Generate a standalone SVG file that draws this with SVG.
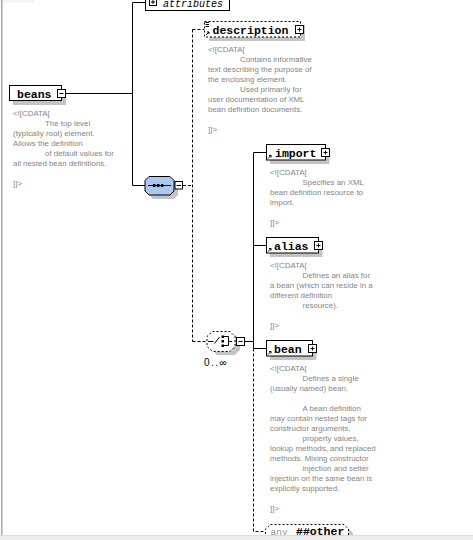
<svg xmlns="http://www.w3.org/2000/svg" width="473" height="540" viewBox="0 0 473 540">
<style>
.bg{fill:#ffffff}
.box{fill:#ffffff;stroke:#000;stroke-width:1}
.dbox{fill:#ffffff;stroke:#000;stroke-width:1;stroke-dasharray:2,2}
.sh{fill:#c4c4c4}
.pm{fill:#ffffff;stroke:#000;stroke-width:1}
.pml{stroke:#000;stroke-width:1;fill:none}
.ln{stroke:#000;stroke-width:1;fill:none}
.dl{stroke:#000;stroke-width:1;fill:none;stroke-dasharray:3,2}
.nm{font-family:"Liberation Mono","Courier New",monospace;font-weight:bold;font-size:11.5px;fill:#000}
.ann{font-family:"Liberation Sans",Arial,sans-serif;font-size:7.9px;fill:#858585}
.ico{stroke:#000;stroke-width:1;fill:none}
</style>
<rect class="bg" x="0" y="0" width="473" height="540"/>
<rect x="0" y="0" width="35" height="3" fill="#f4f4f4"/>
<rect x="1" y="0" width="1.5" height="540" fill="#a8a8a8"/>

<g id="connectors">
  <path class="ln" d="M65.5,93.5 H132.5 M132.5,2.5 V185.5 M132.5,2.5 H145.5 M132.5,185.5 H145.5"/>
  <path class="dl" d="M183,185.5 H192.5 M192.5,29.5 V341.5 M192.5,29.5 H204.5 M192.5,341.5 H207"/>
  <path class="ln" d="M244.5,341.5 H253.5 M253.5,152.5 V348.5 M253.5,152.5 H266.5 M253.5,245.5 H266.5 M253.5,348.5 H266.5"/>
  <path class="dl" d="M253.5,348.5 V531.5 H265.5"/>
</g>

<g id="beans">
  <rect class="sh" x="13" y="89" width="53" height="16"/>
  <rect class="box" x="9.5" y="85.5" width="52" height="15"/>
  <text class="nm" x="17" y="97.5">beans</text>
  <rect class="pm" x="57.5" y="89.5" width="8" height="8"/>
  <path class="pml" d="M59.5,93.5 H63.5"/>
  <g class="ann">
    <text x="13" y="116">&lt;![CDATA[</text>
    <text x="45" y="126">The top level</text>
    <text x="13" y="136">(typically root) element.</text>
    <text x="13" y="146">Allows the definition</text>
    <text x="45" y="156">of default values for</text>
    <text x="13" y="166">all nested bean definitions.</text>
    <text x="13" y="186">]]&gt;</text>
  </g>
</g>

<g id="attributes">
  <rect class="box" x="145.5" y="-6" width="84" height="16.5"/>
  <rect class="pm" x="149.5" y="-1.5" width="7" height="7"/>
  <path class="pml" d="M151,2 H155 M153,0 V4"/>
  <text x="163" y="7" font-family="'Liberation Mono','Courier New',monospace" font-style="italic" font-size="10px" fill="#000">attributes</text>
</g>

<g id="sequence">
  <path class="sh" d="M153,180.5 H174 L178,184.5 V195 L174,199 H153 L149,195 V184.5 Z"/>
  <path d="M149,176.5 H170 L174,180.5 V191 L170,195 H149 L145,191 V180.5 Z" fill="#a9c9f1" stroke="#000" stroke-width="1"/>
  <path class="ln" d="M148,185.5 H171"/>
  <rect x="153" y="184" width="2.5" height="3" fill="#000"/>
  <rect x="157" y="184" width="2.5" height="3" fill="#000"/>
  <rect x="161" y="184" width="2.5" height="3" fill="#000"/>
  <rect class="pm" x="175" y="181.5" width="7.5" height="7.5"/>
  <path class="pml" d="M176.5,185.5 H181"/>
</g>

<g id="description">
  <rect class="sh" x="209" y="25" width="96" height="16"/>
  <rect class="dbox" x="204.5" y="21.5" width="96" height="15.5"/>
  <path class="ico" d="M205.5,22.5 H209 M205.5,24.5 H209 M205.5,26.5 H209"/>
  <path class="ico" d="M206,35 L209,32 M207,32 H209 V34"/>
  <text class="nm" x="212.5" y="34">description</text>
  <rect class="pm" x="295.5" y="25.5" width="8" height="8"/>
  <path class="pml" d="M297.5,29.5 H301.5 M299.5,27.5 V31.5"/>
  <g class="ann">
    <text x="208" y="52">&lt;![CDATA[</text>
    <text x="240" y="62">Contains informative</text>
    <text x="208" y="72">text describing the purpose of</text>
    <text x="208" y="82">the enclosing element.</text>
    <text x="240" y="92">Used primarily for</text>
    <text x="208" y="102">user documentation of XML</text>
    <text x="208" y="112">bean definition documents.</text>
    <text x="208" y="132">]]&gt;</text>
  </g>
</g>

<g id="choice">
  <path class="sh" d="M217,335 H235 L240,340 V350 L235,355 H217 L212,350 V340 Z"/>
  <path class="dbox" d="M212.5,331.5 H230 L235,336.5 V346.5 L230,351.5 H212.5 L207,346.5 V336.5 Z"/>
  <path class="ln" d="M208,341.5 H213.5 M214.5,343.5 L219.5,337"/>
  <rect x="221.5" y="335.5" width="2.5" height="2.5" fill="#000"/>
  <rect x="221.5" y="340" width="2.5" height="2.5" fill="#000"/>
  <rect x="221.5" y="344.5" width="2.5" height="2.5" fill="#000"/>
  <path class="ln" d="M224,336.5 H228.5 V345.5 H224 M228.5,341.5 H232"/>
  <rect class="pm" x="236.5" y="337.5" width="8" height="8"/>
  <path class="pml" d="M238.5,341.5 H242.5"/>
  <text x="204" y="366" font-family="'Liberation Sans',Arial,sans-serif" font-size="10px" letter-spacing="1.5" fill="#000">0..∞</text>
</g>

<g id="import">
  <rect class="sh" x="270" y="148" width="59.5" height="16"/>
  <rect class="box" x="266.5" y="144.5" width="59" height="15.5"/>
  <path class="ico" d="M268,158.5 L271,155.5 M269,155.5 H271 V157.5"/>
  <text class="nm" x="275" y="156.5">import</text>
  <rect class="pm" x="321.5" y="148.5" width="8" height="8"/>
  <path class="pml" d="M323.5,152.5 H327.5 M325.5,150.5 V154.5"/>
  <g class="ann">
    <text x="270" y="175">&lt;![CDATA[</text>
    <text x="302.5" y="185">Specifies an XML</text>
    <text x="270" y="195">bean definition resource to</text>
    <text x="270" y="205">import.</text>
    <text x="270" y="225">]]&gt;</text>
  </g>
</g>

<g id="alias">
  <rect class="sh" x="270" y="241" width="52.5" height="16"/>
  <rect class="box" x="266.5" y="237.5" width="52" height="15.5"/>
  <path class="ico" d="M268,251.5 L271,248.5 M269,248.5 H271 V250.5"/>
  <text class="nm" x="274" y="250">alias</text>
  <rect class="pm" x="314.5" y="241.5" width="8" height="8"/>
  <path class="pml" d="M316.5,245.5 H320.5 M318.5,243.5 V247.5"/>
  <g class="ann">
    <text x="270" y="268">&lt;![CDATA[</text>
    <text x="302.5" y="278">Defines an alias for</text>
    <text x="270" y="288">a bean (which can reside in a</text>
    <text x="270" y="298">different definition</text>
    <text x="302.5" y="308">resource).</text>
    <text x="270" y="328">]]&gt;</text>
  </g>
</g>

<g id="bean">
  <rect class="sh" x="270" y="344" width="46.5" height="16"/>
  <rect class="box" x="266.5" y="340.5" width="46" height="15.5"/>
  <path class="ico" d="M268,354.5 L271,351.5 M269,351.5 H271 V353.5"/>
  <text class="nm" x="274" y="352.5">bean</text>
  <rect class="pm" x="308.5" y="344.5" width="8" height="8"/>
  <path class="pml" d="M310.5,348.5 H314.5 M312.5,346.5 V350.5"/>
  <g class="ann">
    <text x="270" y="371">&lt;![CDATA[</text>
    <text x="302.5" y="381">Defines a single</text>
    <text x="270" y="391">(usually named) bean.</text>
    <text x="302.5" y="411">A bean definition</text>
    <text x="270" y="421">may contain nested tags for</text>
    <text x="270" y="431">constructor arguments,</text>
    <text x="302.5" y="441">property values,</text>
    <text x="270" y="451">lookup methods, and replaced</text>
    <text x="270" y="461">methods. Mixing constructor</text>
    <text x="302.5" y="471">injection and setter</text>
    <text x="270" y="481">injection on the same bean is</text>
    <text x="270" y="491">explicitly supported.</text>
    <text x="270" y="511">]]&gt;</text>
  </g>
</g>

<g id="any">
  <path class="sh" d="M274,528 H348 L353,533 V550 H269 V533 Z"/>
  <path class="dbox" d="M270.5,524.5 H344 L348.5,529 V550 H265.5 V529 Z"/>
  <text x="270.5" y="535" font-family="'Liberation Mono','Courier New',monospace" font-size="9.5px" fill="#909090">any</text>
  <text class="nm" x="296" y="535">##other</text>
</g>

<rect x="0" y="535" width="473" height="5" fill="#ececec"/>
<path d="M0,535.5 H473" stroke="#dcdcdc" stroke-width="1"/>
</svg>
